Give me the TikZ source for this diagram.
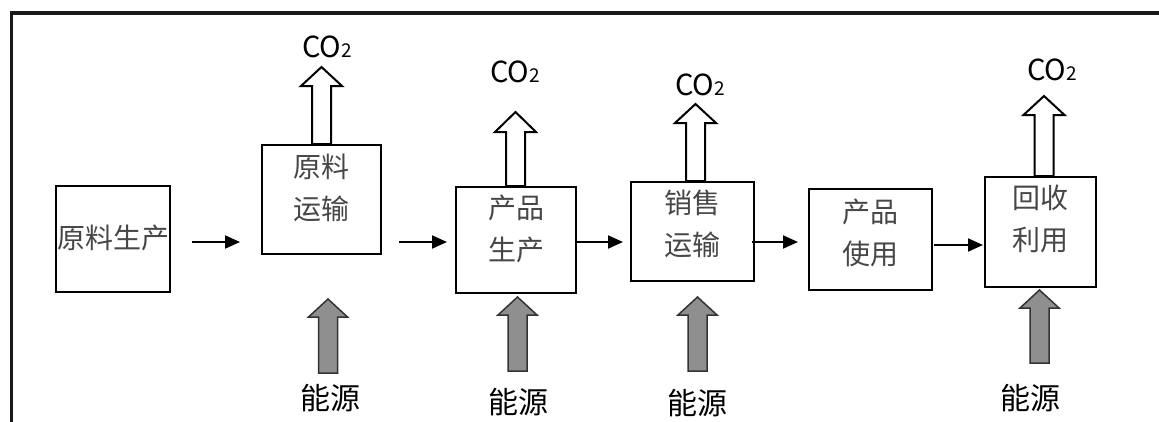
\documentclass[tikz,border=0pt]{standalone}
\usepackage{fontspec}
\newfontfamily\cjk{Noto Sans CJK SC}
\usetikzlibrary{arrows.meta}
\tikzset{
  pics/uparr/.style n args={4}{code={%
    \path[pic actions] (-#2,0) -- (-#2,{-#1+#4}) -- (-#3,{-#1+#4}) -- (0,-#1)
      -- (#3,{-#1+#4}) -- (#2,{-#1+#4}) -- (#2,0) -- cycle;
  }},
  box/.style={draw=black, line width=2pt, fill=white, inner sep=0pt},
  boxtext/.style={font=\cjk\fontsize{28}{42}\selectfont, text=black!72, align=center, inner sep=0pt},
  flow/.style={line width=2pt, -{Triangle[length=15pt,width=13pt]}},
  emit/.style={draw=black, line width=2pt, fill=white, line join=miter},
  energy/.style={draw=black!80, line width=1.5pt, fill=black!44},
  co2/.style={font=\cjk\fontsize{29}{30}\selectfont, inner sep=0pt},
  enlabel/.style={font=\cjk\fontsize{30}{30}\selectfont, inner sep=0pt}
}
\newcommand{\subtwo}{{\fontsize{19}{19}\selectfont 2}}
\begin{document}
\begin{tikzpicture}[x=1pt,y=-1pt]
\useasboundingbox (0,0) rectangle (1159,421);
\fill[white] (0,0) rectangle (1159,421);
% frame
\draw[line width=3.6pt, black!90, line cap=butt] (11.3,425) -- (11.3,12.8) -- (1165,12.8);

% boxes
\node[box, minimum width=114pt, minimum height=106pt] (b1) at (113,239) {};
\node[box, minimum width=119pt, minimum height=109pt] (b2) at (321.5,199.5) {};
\node[box, minimum width=120pt, minimum height=106pt] (b3) at (516,240) {};
\node[box, minimum width=123pt, minimum height=99pt] (b4) at (692.5,231.5) {};
\node[box, minimum width=123pt, minimum height=101pt] (b5) at (870.5,239.5) {};
\node[box, minimum width=111pt, minimum height=110pt] (b6) at (1040.5,232) {};

\node[boxtext] (t1) at (113,238) {原料生产};
\node[boxtext] (t2) at (321.5,187.5) {原料\\运输};
\node[boxtext] (t3) at (516,229) {产品\\生产};
\node[boxtext] (t4) at (692.5,223.5) {销售\\运输};
\node[boxtext] (t5) at (870.5,232.5) {产品\\使用};
\node[boxtext] (t6) at (1040.5,219) {回收\\利用};

% flow arrows
\draw[flow, shorten <=21pt, shorten >=21pt] (b1.east |- 0,242) -- (b2.west |- 0,242);
\draw[flow, shorten <=17pt, shorten >=8pt] (b2.east |- 0,242) -- (b3.west |- 0,242);
\draw[flow, shorten <=0pt, shorten >=7pt] (b3.east |- 0,242) -- (b4.west |- 0,242);
\draw[flow, shorten <=-3pt, shorten >=10pt] (b4.east |- 0,242) -- (b5.west |- 0,242);
\draw[flow, shorten <=1pt, shorten >=1pt] (b5.east |- 0,245) -- (b6.west |- 0,245);

% CO2 emission arrows
\pic[emit] at (b2.north) {uparr={77}{9.5}{20.5}{19}};
\pic[emit] at ([xshift=-0.5pt]b3.north) {uparr={74}{9.5}{20.5}{20}};
\pic[emit] at ([xshift=3pt]b4.north) {uparr={77}{9.5}{20.5}{19}};
\pic[emit] at ([xshift=3.5pt]b6.north) {uparr={80}{9.5}{20.5}{19}};

\node[co2] (c2) at (327,47) {CO\subtwo};
\node[co2] (c3) at (515,72) {CO\subtwo};
\node[co2] (c4) at (700,85) {CO\subtwo};
\node[co2] (c6) at (1052,70) {CO\subtwo};

% energy arrows
\pic[energy] at (328,373) {uparr={74}{9.5}{19.5}{18}};
\pic[energy] at (517.5,371) {uparr={74}{9.5}{19.5}{18}};
\pic[energy] at (697.5,371) {uparr={74}{9.5}{19.5}{18}};
\pic[energy] at (1039.5,363) {uparr={73}{9.5}{19.5}{18}};

\node[enlabel] (e2) at (330,398) {能源};
\node[enlabel] (e3) at (518,402) {能源};
\node[enlabel] (e4) at (697,403) {能源};
\node[enlabel] (e6) at (1030,398) {能源};
\end{tikzpicture}
\end{document}
